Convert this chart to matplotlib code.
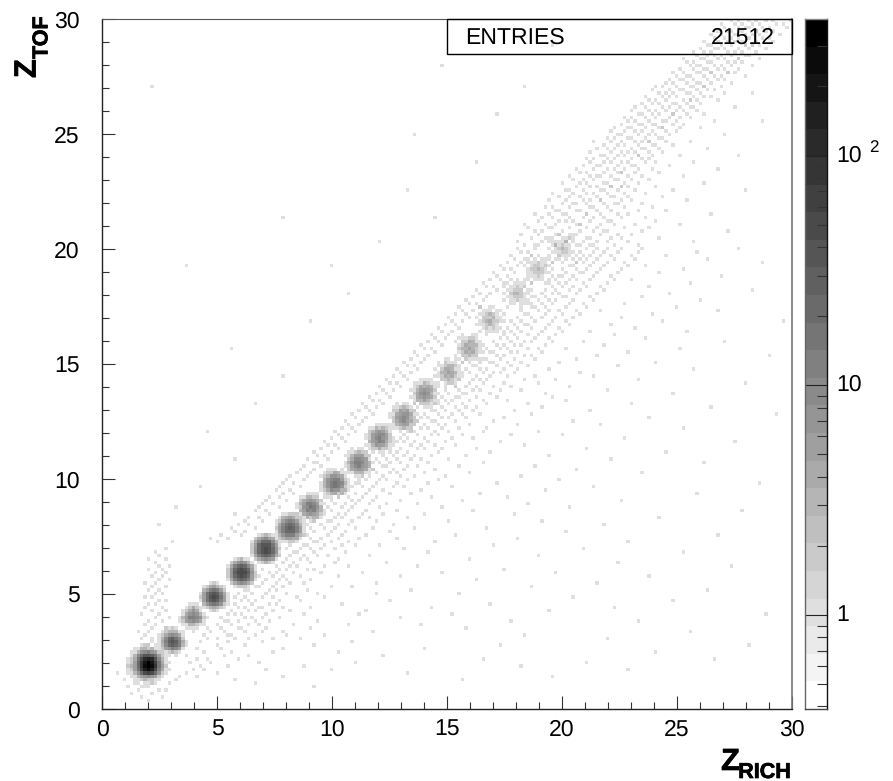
import numpy as np
import matplotlib
matplotlib.use('Agg')
import matplotlib.pyplot as plt
import matplotlib.patheffects as pe
from matplotlib.colors import ListedColormap, BoundaryNorm
from matplotlib.patches import Rectangle
from matplotlib.ticker import FixedLocator, NullFormatter, NullLocator

plt.rcParams['font.family'] = ['Liberation Sans', 'DejaVu Sans']
plt.rcParams['text.hinting'] = 'no_hinting'
plt.rcParams['text.hinting_factor'] = 1

# histogram binning and colour scale
n_bins = 200
z_max = 30
entries = 21512
z_min_colour = 0.39
z_max_colour = 393
n_levels = 25

# charge peaks: (column, row) of each stamp centre
peak_col = [20, 26, 32, 40, 47, 54, 60, 67, 74, 80, 87, 93, 100, 106, 112, 120, 126, 133]
peak_row = [19, 26, 32, 39, 46, 52, 58, 65, 71, 78, 84, 91, 97, 104, 112, 120, 127, 133]

# helium peak, read cell by cell, bottom row first
helium_col = 13
helium_row = 12
helium = [
    [0, 0, 0, 0, 1, 0, 1, 0, 0, 0, 0, 0, 0],
    [0, 0, 0, 1, 0, 1, 1, 2, 1, 0, 0, 0, 0],
    [0, 0, 1, 1, 2, 3, 2, 2, 1, 1, 0, 0, 0],
    [0, 1, 1, 3, 5, 8, 10, 7, 5, 2, 1, 0, 0],
    [1, 1, 3, 8, 22, 45, 70, 50, 22, 7, 2, 1, 0],
    [1, 2, 5, 15, 60, 150, 230, 160, 55, 14, 4, 1, 1],
    [2, 3, 6, 22, 90, 260, 393, 280, 85, 18, 5, 2, 0],
    [1, 2, 6, 24, 85, 220, 300, 210, 70, 16, 4, 1, 1],
    [1, 2, 4, 18, 50, 110, 140, 100, 40, 10, 3, 1, 0],
    [0, 1, 3, 9, 20, 34, 40, 30, 16, 6, 2, 1, 0],
    [0, 1, 1, 3, 7, 9, 11, 8, 5, 2, 1, 0, 0],
    [0, 0, 1, 1, 2, 3, 2, 3, 1, 1, 0, 0, 0],
    [0, 0, 0, 0, 1, 1, 2, 0, 1, 0, 0, 0, 0],
]

# 9x9 cells around each remaining peak, bottom row first
peak_3 = [[0, 0, 0, 1, 0, 1, 0, 0, 0], [0, 1, 1, 2, 3, 2, 1, 0, 0], [0, 2, 5, 8, 11, 9, 5, 1, 0], [1, 3, 10, 22, 30, 24, 11, 3, 1], [1, 4, 14, 28, 36, 27, 12, 4, 1], [1, 3, 10, 20, 26, 18, 9, 2, 0], [0, 2, 4, 8, 10, 7, 4, 1, 0], [0, 1, 2, 3, 3, 3, 1, 1, 0], [0, 0, 1, 1, 2, 1, 0, 0, 0]]
peak_4 = [[0, 0, 0, 0, 1, 0, 0, 0, 0], [0, 0, 1, 1, 1, 1, 0, 0, 0], [0, 1, 1, 3, 3, 2, 1, 1, 0], [1, 2, 5, 8, 9, 7, 4, 1, 0], [1, 3, 6, 11, 13, 10, 7, 2, 1], [0, 1, 4, 7, 10, 8, 3, 1, 0], [0, 1, 2, 4, 7, 4, 1, 0, 0], [0, 0, 1, 2, 4, 2, 1, 0, 0], [0, 0, 0, 1, 1, 1, 0, 0, 0]]
peak_5 = [[0, 0, 0, 1, 2, 1, 0, 0, 0], [0, 1, 2, 3, 4, 3, 2, 1, 0], [0, 3, 7, 13, 17, 13, 7, 2, 0], [1, 5, 15, 28, 36, 30, 14, 5, 1], [2, 6, 18, 36, 44, 36, 18, 5, 1], [1, 5, 15, 28, 34, 27, 13, 4, 1], [0, 3, 6, 13, 16, 12, 6, 2, 0], [0, 1, 2, 4, 5, 3, 2, 1, 0], [0, 0, 0, 1, 2, 1, 0, 0, 0]]
peak_6 = [[0, 0, 1, 2, 2, 2, 1, 0, 0], [0, 2, 4, 7, 9, 7, 4, 2, 0], [1, 4, 12, 22, 28, 24, 12, 4, 1], [2, 7, 22, 38, 46, 40, 21, 6, 2], [2, 8, 26, 46, 54, 44, 25, 8, 2], [2, 7, 21, 36, 44, 35, 20, 6, 1], [1, 4, 11, 22, 26, 20, 10, 4, 1], [0, 2, 4, 7, 9, 7, 3, 1, 0], [0, 0, 1, 2, 3, 1, 1, 0, 0]]
peak_7 = [[0, 0, 1, 2, 2, 2, 1, 0, 0], [0, 2, 4, 8, 10, 8, 4, 1, 0], [1, 4, 12, 22, 26, 22, 11, 4, 1], [2, 7, 22, 36, 44, 36, 20, 7, 1], [2, 8, 24, 42, 50, 42, 24, 8, 2], [2, 6, 20, 34, 40, 33, 18, 6, 1], [1, 4, 10, 20, 24, 19, 10, 3, 1], [0, 2, 4, 7, 9, 6, 4, 1, 0], [0, 0, 1, 2, 3, 2, 1, 0, 0]]
peak_8 = [[0, 0, 1, 1, 2, 1, 1, 0, 0], [0, 2, 3, 5, 6, 4, 3, 1, 0], [1, 3, 7, 12, 14, 12, 6, 3, 1], [1, 5, 12, 20, 23, 19, 11, 4, 1], [2, 5, 14, 23, 27, 22, 12, 5, 1], [1, 4, 10, 18, 21, 17, 10, 3, 1], [1, 2, 6, 10, 12, 10, 5, 2, 0], [0, 1, 3, 4, 5, 4, 2, 1, 0], [0, 0, 1, 1, 2, 2, 1, 0, 0]]
peak_9 = [[0, 0, 1, 0, 1, 1, 0, 0, 0], [0, 1, 1, 3, 2, 3, 2, 1, 0], [1, 1, 4, 6, 8, 5, 4, 2, 0], [0, 3, 6, 11, 9, 12, 5, 2, 1], [1, 2, 8, 10, 15, 11, 7, 3, 0], [1, 3, 5, 12, 11, 9, 6, 1, 1], [0, 2, 4, 5, 8, 6, 3, 2, 0], [0, 1, 1, 3, 3, 2, 2, 0, 1], [0, 0, 0, 1, 1, 1, 1, 0, 0]]
peak_10 = [[0, 0, 1, 1, 0, 1, 0, 0, 0], [0, 1, 2, 3, 4, 2, 2, 1, 0], [1, 2, 4, 9, 7, 8, 3, 2, 0], [1, 3, 8, 11, 15, 12, 7, 2, 1], [1, 3, 7, 14, 17, 11, 9, 3, 1], [0, 3, 8, 10, 12, 13, 5, 2, 1], [1, 2, 3, 7, 8, 6, 4, 1, 0], [0, 1, 2, 2, 4, 3, 1, 1, 0], [0, 0, 1, 1, 1, 0, 1, 0, 0]]
peak_11 = [[0, 0, 0, 1, 1, 1, 0, 0, 0], [0, 1, 1, 3, 2, 3, 1, 1, 0], [0, 2, 4, 5, 8, 5, 3, 1, 1], [1, 2, 5, 9, 12, 8, 6, 2, 0], [1, 3, 7, 11, 13, 10, 5, 3, 1], [0, 2, 4, 9, 9, 8, 5, 1, 0], [1, 1, 3, 6, 5, 6, 2, 2, 0], [0, 1, 1, 2, 3, 2, 2, 0, 0], [0, 0, 1, 0, 1, 1, 0, 0, 0]]
peak_12 = [[0, 0, 1, 0, 1, 1, 0, 0, 0], [0, 1, 2, 2, 4, 2, 1, 1, 0], [1, 1, 3, 7, 6, 6, 3, 1, 0], [0, 3, 6, 8, 11, 9, 4, 2, 1], [1, 2, 6, 10, 12, 8, 6, 2, 1], [1, 2, 5, 8, 10, 9, 5, 2, 0], [0, 2, 3, 5, 7, 5, 3, 1, 0], [0, 1, 1, 3, 2, 3, 2, 1, 0], [0, 0, 0, 1, 1, 1, 1, 0, 0]]
peak_13 = [[0, 0, 0, 1, 0, 1, 1, 0, 0], [0, 1, 1, 2, 3, 1, 2, 0, 0], [1, 1, 3, 4, 5, 5, 2, 1, 0], [0, 2, 4, 7, 9, 6, 4, 2, 1], [1, 2, 5, 8, 10, 8, 3, 2, 0], [1, 1, 4, 6, 8, 7, 4, 1, 1], [0, 2, 2, 5, 4, 5, 2, 2, 0], [0, 1, 1, 2, 3, 2, 1, 0, 0], [0, 0, 1, 0, 1, 1, 0, 1, 0]]
peak_14 = [[0, 0, 1, 0, 1, 0, 1, 0, 0], [0, 1, 0, 2, 2, 2, 1, 1, 0], [0, 1, 3, 3, 5, 3, 2, 1, 1], [1, 1, 4, 6, 8, 5, 4, 2, 0], [0, 2, 4, 7, 9, 7, 3, 1, 1], [1, 1, 3, 5, 7, 6, 4, 2, 0], [0, 1, 2, 4, 3, 4, 3, 1, 1], [0, 1, 1, 1, 3, 2, 1, 1, 0], [0, 0, 0, 1, 1, 1, 1, 0, 0]]
peak_15 = [[0, 0, 0, 1, 0, 0, 1, 0, 0], [0, 1, 0, 1, 2, 1, 1, 0, 0], [0, 0, 2, 2, 3, 2, 1, 1, 0], [1, 1, 2, 4, 3, 4, 2, 1, 0], [0, 1, 3, 3, 5, 4, 3, 1, 1], [1, 0, 2, 4, 4, 3, 1, 1, 0], [0, 1, 1, 2, 3, 3, 2, 1, 0], [0, 1, 0, 2, 1, 1, 1, 0, 1], [0, 0, 0, 1, 1, 0, 1, 0, 0]]
peak_16 = [[0, 0, 1, 0, 1, 0, 0, 0, 0], [0, 1, 0, 2, 1, 1, 1, 1, 0], [1, 0, 2, 2, 3, 2, 1, 0, 0], [0, 1, 2, 4, 3, 4, 2, 1, 1], [0, 2, 3, 3, 5, 3, 2, 1, 0], [0, 1, 2, 4, 3, 3, 3, 1, 1], [1, 0, 2, 2, 4, 3, 1, 1, 0], [0, 1, 1, 1, 2, 2, 1, 0, 0], [0, 0, 1, 0, 0, 1, 1, 0, 0]]
peak_17 = [[0, 0, 0, 1, 0, 0, 0, 0, 0], [0, 1, 0, 1, 1, 1, 0, 0, 1], [0, 0, 1, 2, 1, 2, 1, 1, 0], [1, 1, 1, 2, 3, 2, 1, 0, 0], [0, 1, 2, 3, 4, 2, 2, 1, 1], [1, 0, 2, 2, 2, 3, 1, 1, 0], [0, 1, 1, 2, 3, 2, 1, 0, 1], [0, 0, 1, 1, 1, 0, 1, 1, 0], [0, 1, 0, 0, 1, 1, 0, 0, 0]]
peak_18 = [[0, 1, 0, 0, 0, 1, 0, 0, 0], [0, 0, 1, 1, 0, 1, 1, 0, 1], [1, 0, 1, 1, 2, 1, 1, 1, 0], [0, 1, 1, 2, 2, 2, 1, 0, 1], [1, 0, 2, 3, 3, 2, 1, 1, 0], [0, 1, 1, 2, 2, 2, 0, 1, 1], [1, 0, 1, 1, 2, 1, 2, 0, 0], [0, 1, 0, 1, 1, 1, 1, 0, 1], [0, 0, 1, 0, 1, 0, 0, 1, 0]]
peak_19 = [[0, 0, 1, 0, 0, 0, 1, 0, 0], [1, 0, 0, 1, 1, 1, 0, 1, 0], [0, 1, 1, 1, 2, 1, 0, 0, 1], [0, 1, 1, 2, 2, 2, 1, 1, 0], [0, 1, 2, 2, 3, 2, 1, 0, 1], [1, 0, 1, 2, 2, 1, 2, 1, 0], [0, 1, 1, 1, 2, 1, 1, 0, 1], [0, 1, 0, 1, 0, 1, 1, 1, 0], [0, 0, 1, 0, 1, 0, 0, 0, 0]]
peak_20 = [[0, 1, 0, 0, 1, 0, 0, 0, 1], [0, 0, 1, 1, 0, 1, 0, 1, 0], [1, 0, 0, 2, 1, 1, 1, 0, 1], [0, 1, 1, 1, 2, 2, 1, 1, 0], [1, 0, 1, 2, 3, 2, 1, 0, 0], [0, 1, 2, 1, 2, 1, 1, 0, 1], [1, 0, 1, 1, 1, 2, 0, 1, 0], [0, 1, 0, 0, 1, 1, 0, 1, 0], [0, 0, 1, 1, 0, 0, 1, 0, 0]]
peak_stamps = [peak_3, peak_4, peak_5, peak_6, peak_7, peak_8, peak_9, peak_10, peak_11,
               peak_12, peak_13, peak_14, peak_15, peak_16, peak_17, peak_18, peak_19, peak_20]

# single counts, row number -> occupied columns
specks_low = {
    2: [13], 3: [11, 17], 4: [8, 14], 5: [10, 16, 18], 6: [7, 12, 61], 7: [9, 19, 44], 8: [6, 21, 38, 104],
    9: [22, 27, 52, 130], 10: [4, 24, 33, 88], 11: [26, 29, 47, 66, 152], 12: [28, 36, 58, 121], 13: [25, 31, 45, 73, 140],
    14: [27, 30, 39, 110, 177], 15: [24, 35, 42, 81], 16: [29, 37, 49, 68, 160], 17: [11, 27, 34, 52, 93], 18: [12, 33, 41, 61, 115, 187],
    19: [14, 28, 36, 46, 72], 20: [11, 14, 30, 33, 38, 42, 49, 57, 146], 21: [12, 16, 29, 36, 37, 44, 53, 64, 122], 22: [10, 13, 31, 35, 41, 46, 52, 78, 170],
    23: [14, 18, 30, 34, 39, 40, 47, 60, 105], 24: [12, 15, 33, 37, 42, 45, 55, 71, 92], 25: [13, 17, 35, 36, 39, 44, 48, 62, 118, 155], 26: [15, 19, 34, 41, 43, 46, 51, 86],
    27: [11, 16, 36, 38, 40, 47, 58, 74, 101, 192], 28: [14, 18, 37, 42, 44, 49, 54, 76, 129], 29: [12, 17, 39, 41, 45, 46, 52, 60, 95, 148], 30: [13, 15, 36, 38, 43, 48, 50, 69, 112],
    31: [16, 18, 40, 42, 44, 51, 57, 83, 165], 32: [12, 14, 38, 41, 46, 49, 56, 64, 136], 33: [15, 17, 39, 43, 47, 53, 62, 79, 103], 34: [13, 16, 41, 42, 48, 50, 59, 89, 175],
    35: [14, 18, 44, 45, 49, 52, 66, 72, 124], 36: [12, 15, 46, 50, 54, 58, 79, 143], 37: [16, 19, 43, 47, 51, 53, 60, 108], 38: [14, 17, 45, 49, 52, 57, 68, 86, 158],
    39: [15, 18, 48, 50, 55, 63, 75, 98, 131], 40: [13, 17, 46, 51, 53, 59, 61, 116], 41: [16, 19, 50, 54, 56, 64, 71, 91, 182], 42: [15, 47, 52, 55, 60, 67, 82, 149],
    43: [13, 18, 49, 53, 57, 59, 68, 106], 44: [16, 51, 54, 58, 62, 65, 77, 126], 45: [15, 50, 55, 56, 61, 70, 94, 168], 46: [18, 53, 57, 60, 63, 67, 87, 139],
    47: [54, 58, 59, 64, 69, 73, 80, 113], 48: [20, 33, 55, 61, 62, 66, 71, 96, 152], 49: [31, 36, 56, 60, 63, 68, 74, 85, 120], 50: [34, 40, 58, 59, 65, 69, 76, 102, 178],
    51: [38, 41, 57, 61, 66, 70, 83, 134], 52: [37, 44, 60, 64, 67, 73, 78, 90, 111], 53: [39, 42, 59, 63, 68, 71, 84, 145], 54: [41, 46, 61, 65, 66, 72, 79, 100, 127],
    55: [42, 45, 62, 67, 69, 74, 77, 88, 161], 56: [38, 48, 64, 68, 70, 75, 81, 93, 119], 57: [44, 47, 63, 66, 71, 76, 85, 107, 185], 58: [45, 51, 65, 69, 72, 80, 98, 135],
    59: [46, 49, 67, 70, 73, 77, 82, 91, 123], 60: [47, 53, 66, 72, 74, 78, 86, 104, 150], 61: [48, 51, 68, 71, 75, 79, 95, 117], 62: [52, 55, 69, 73, 76, 83, 89, 109, 172],
    63: [50, 54, 70, 71, 77, 81, 92, 128], 64: [51, 57, 72, 75, 78, 84, 87, 101, 142], 65: [52, 55, 73, 74, 79, 85, 94, 114, 190], 66: [53, 58, 74, 76, 80, 82, 88, 97, 132],
}
specks_mid = {
    67: [54, 59, 75, 77, 81, 86, 90, 99, 121], 68: [56, 60, 74, 79, 83, 85, 93, 106, 156], 69: [57, 61, 76, 78, 84, 87, 96, 137], 70: [58, 63, 77, 81, 82, 88, 91, 103, 125],
    71: [61, 62, 80, 83, 86, 94, 110, 174], 72: [59, 65, 79, 82, 85, 89, 92, 100, 147], 73: [62, 64, 81, 84, 87, 90, 95, 105, 129], 74: [61, 66, 83, 85, 88, 97, 112, 163],
    75: [63, 68, 82, 86, 91, 93, 98, 108, 140], 76: [65, 67, 84, 89, 92, 96, 102, 122], 77: [64, 70, 85, 87, 90, 94, 99, 115, 183], 78: [66, 69, 86, 88, 93, 101, 107, 151],
    79: [68, 71, 87, 91, 95, 97, 104, 118, 133], 80: [67, 73, 89, 90, 96, 100, 110, 126], 81: [69, 72, 88, 92, 94, 98, 103, 111, 168], 82: [71, 74, 90, 93, 97, 99, 106, 120, 144],
    83: [70, 75, 91, 95, 96, 102, 113, 136], 84: [73, 76, 92, 94, 98, 100, 105, 116, 158], 85: [72, 78, 93, 97, 101, 104, 109, 124, 195], 86: [74, 77, 95, 96, 99, 103, 107, 119, 141],
    87: [76, 79, 94, 98, 102, 105, 108, 127, 176], 88: [75, 81, 96, 97, 100, 104, 111, 123, 153], 89: [78, 80, 99, 101, 106, 110, 117, 134], 90: [77, 83, 98, 102, 103, 108, 114, 130],
    91: [79, 82, 100, 104, 105, 112, 128, 165], 92: [81, 84, 99, 103, 107, 109, 115, 121, 146], 93: [80, 86, 102, 105, 108, 113, 118, 135], 94: [83, 85, 101, 106, 110, 116, 126, 186],
    95: [82, 88, 103, 107, 109, 111, 122, 131, 155], 96: [84, 87, 104, 108, 112, 117, 125, 142], 97: [86, 89, 106, 110, 113, 115, 119, 138], 98: [85, 91, 105, 109, 111, 116, 120, 129, 171],
    99: [88, 90, 107, 108, 114, 118, 123, 149], 100: [87, 92, 109, 112, 113, 117, 121, 132, 160], 101: [89, 93, 110, 111, 115, 119, 125, 137], 102: [91, 94, 108, 114, 116, 122, 124, 143, 193],
    103: [90, 96, 112, 113, 118, 120, 127, 152], 104: [93, 95, 111, 115, 117, 123, 126, 134, 167], 105: [92, 98, 114, 116, 119, 121, 128, 145], 106: [94, 97, 113, 118, 122, 124, 130, 139, 180],
    107: [96, 99, 115, 117, 120, 125, 129, 157], 108: [95, 100, 116, 119, 123, 126, 131, 148], 109: [98, 101, 114, 118, 121, 127, 133, 141, 169], 110: [97, 103, 117, 120, 124, 128, 132, 154],
    111: [99, 102, 119, 122, 123, 129, 135, 147], 112: [101, 104, 118, 121, 125, 130, 134, 162, 197], 113: [100, 106, 120, 124, 127, 131, 136, 150], 114: [102, 105, 122, 123, 128, 133, 138, 159],
    115: [104, 107, 121, 126, 129, 132, 137, 144, 178], 116: [103, 109, 124, 125, 128, 134, 140, 166], 117: [106, 108, 123, 127, 130, 135, 139, 151], 118: [105, 110, 126, 129, 131, 136, 142, 173],
    119: [107, 111, 125, 128, 133, 134, 141, 156], 120: [109, 112, 127, 130, 132, 137, 143, 164], 121: [108, 114, 128, 131, 135, 138, 145, 188], 122: [111, 113, 130, 133, 136, 140, 144, 158],
    123: [110, 116, 129, 132, 134, 139, 146, 170], 124: [112, 115, 131, 135, 137, 141, 148, 153], 125: [114, 117, 132, 133, 136, 142, 147, 179], 126: [113, 119, 134, 138, 139, 143, 149, 161],
    127: [116, 118, 133, 137, 140, 144, 150, 168], 128: [115, 120, 135, 136, 141, 145, 152, 157], 129: [117, 121, 137, 139, 142, 146, 151, 191], 130: [119, 122, 138, 140, 143, 148, 154, 175],
    131: [118, 124, 139, 141, 144, 147, 153, 163], 132: [121, 123, 138, 142, 145, 149, 155, 172], 133: [120, 125, 140, 143, 146, 150, 156, 184],
}
specks_high = {
    134: [122, 125, 126, 131, 138, 141, 142, 148, 155], 135: [120, 127, 130, 134, 139, 143, 146, 152, 171], 136: [124, 128, 129, 135, 140, 141, 147, 150, 161], 137: [121, 126, 132, 136, 137, 144, 149, 153],
    138: [125, 127, 133, 138, 142, 145, 146, 156, 181], 139: [123, 129, 130, 135, 140, 143, 151, 158], 140: [122, 128, 131, 137, 138, 144, 148, 154, 167], 141: [126, 132, 134, 136, 141, 146, 147, 160],
    142: [127, 130, 135, 139, 142, 145, 150, 157], 143: [125, 129, 133, 134, 140, 144, 149, 152, 176], 144: [131, 132, 137, 138, 143, 147, 155, 163], 145: [128, 130, 135, 141, 142, 146, 151, 159],
    146: [133, 136, 137, 140, 145, 148, 149, 156], 147: [129, 134, 139, 141, 144, 150, 153, 169], 148: [132, 135, 138, 143, 147, 148, 152, 162], 149: [130, 136, 140, 142, 146, 151, 157],
    150: [134, 135, 139, 144, 145, 149, 154, 165, 186], 151: [137, 141, 143, 147, 150, 152, 160], 152: [133, 138, 140, 145, 146, 151, 155, 174], 153: [136, 139, 142, 148, 149, 153, 158],
    154: [135, 141, 143, 144, 147, 152, 156, 168], 155: [138, 140, 145, 149, 150, 154, 161], 156: [137, 142, 146, 148, 151, 155, 159, 178], 157: [139, 143, 144, 149, 153, 154, 164],
    158: [141, 145, 147, 150, 152, 157, 160, 171], 159: [140, 142, 146, 148, 153, 156, 158], 160: [144, 145, 149, 151, 155, 159, 167, 184], 161: [141, 147, 150, 152, 154, 158, 162],
    162: [143, 146, 148, 153, 156, 157, 161, 175], 163: [145, 149, 151, 155, 159, 160, 165], 164: [142, 147, 150, 154, 156, 158, 163, 170], 165: [146, 148, 152, 153, 157, 161, 162],
    166: [149, 150, 155, 158, 160, 164, 180], 167: [147, 151, 154, 156, 159, 163, 166], 168: [148, 152, 153, 157, 161, 162, 167, 173], 169: [150, 155, 156, 159, 160, 165, 168],
    170: [152, 154, 158, 162, 163, 166, 177, 191], 171: [151, 153, 157, 160, 164, 167, 170], 172: [155, 156, 159, 161, 165, 169, 174], 173: [153, 158, 160, 163, 166, 168, 172],
    174: [154, 157, 162, 164, 167, 170, 171, 183], 175: [156, 159, 161, 165, 166, 169, 173], 176: [158, 160, 163, 168, 170, 172, 178], 177: [157, 162, 164, 166, 171, 174, 176],
    178: [161, 163, 165, 169, 170, 173, 180, 188], 179: [159, 164, 167, 168, 172, 175, 177], 180: [160, 162, 166, 170, 171, 174, 179], 181: [163, 165, 169, 172, 173, 176, 182],
    182: [164, 167, 168, 171, 175, 178, 180], 183: [166, 169, 170, 174, 177, 179, 186], 184: [165, 168, 172, 173, 176, 181, 183], 185: [167, 171, 174, 175, 178, 180, 184],
    186: [170, 172, 173, 177, 179, 182, 188], 187: [169, 171, 175, 176, 181, 183, 185], 188: [168, 173, 174, 178, 180, 184, 190], 189: [172, 175, 177, 179, 182, 186, 187],
    190: [171, 174, 176, 181, 183, 185, 189], 191: [173, 177, 178, 180, 184, 187, 192], 192: [175, 176, 179, 182, 186, 188, 190], 193: [174, 178, 181, 183, 185, 189, 194],
    194: [177, 180, 182, 184, 187, 191, 193], 195: [176, 179, 183, 186, 188, 190, 196], 196: [178, 181, 182, 185, 189, 192, 194], 197: [180, 184, 186, 187, 191, 193, 198],
    198: [179, 183, 185, 188, 190, 195, 197], 199: [182, 184, 187, 189, 192, 194, 199],
}
# isolated specks far above the diagonal
specks_far = {
    15: [13], 53: [16], 58: [21], 64: [28], 72: [38], 80: [30], 88: [44], 96: [52], 104: [37], 112: [60], 120: [71],
    128: [24, 66], 135: [80], 142: [52, 96], 150: [88], 158: [108], 166: [90], 172: [114], 180: [14, 122], 186: [98], 192: [130],
}
# cells of the upper band that hold two counts
band_doubles = {
    136: [135], 140: [138], 143: [140], 147: [144], 151: [147, 150], 155: [150], 160: [155], 164: [158], 168: [162],
    172: [165], 176: [170], 180: [174], 184: [176, 181], 188: [184], 192: [186, 188], 196: [189],
}

tick_values = [5, 10, 15, 20, 25, 30]


counts = np.zeros((n_bins, n_bins))


def add_stamp(stamp, col, row):
    stamp = np.array(stamp)
    half = stamp.shape[0] // 2
    counts[row - half:row + half + 1, col - half:col + half + 1] += stamp


add_stamp(helium, helium_col, helium_row)
for stamp, col, row in zip(peak_stamps, peak_col, peak_row):
    add_stamp(stamp, col, row)
for table in (specks_low, specks_mid, specks_high, specks_far, band_doubles):
    for row, cols in table.items():
        for col in cols:
            counts[row, col] += 1

W, H = 893, 781
fig = plt.figure(figsize=(W / 100, H / 100), dpi=100)
ax = fig.add_axes([102 / W, (H - 709) / H, 690 / W, 690 / H])
cax = fig.add_axes([805 / W, (H - 709) / H, 22 / W, 690 / H])

# PAW style grey scale, white at the bottom to black at the top
greys = [str(1 - i / (n_levels - 1)) for i in range(n_levels)]
cmap = ListedColormap(greys)
level_edges = np.logspace(np.log10(z_min_colour), np.log10(z_max_colour), n_levels + 1)
norm = BoundaryNorm(level_edges, n_levels)

edges = np.linspace(0, z_max, n_bins + 1)
ax.pcolormesh(edges, edges, np.ma.masked_equal(counts, 0), cmap=cmap, norm=norm, linewidth=0, rasterized=True)
ax.set_xlim(0, z_max)
ax.set_ylim(0, z_max)
ax.set_xticks([0] + tick_values)
ax.set_yticks([0] + tick_values)
ax.set_xticks(np.arange(0, 31), minor=True)
ax.set_yticks(np.arange(0, 31), minor=True)
ax.tick_params(which='major', direction='in', length=9.4, width=0.8, labelsize=16.8, color='#333333')
ax.tick_params(which='minor', direction='in', length=4.8, width=0.8, color='#333333')
ax.tick_params(axis='x', which='major', pad=7)
ax.tick_params(axis='y', which='major', pad=16)
for side in ('left', 'bottom'):
    ax.spines[side].set_linewidth(1.0)
    ax.spines[side].set_color('#222222')
ax.spines['top'].set_linewidth(0.8)
ax.spines['top'].set_color('#555555')
ax.spines['right'].set_linewidth(1.2)
ax.spines['right'].set_color('#777777')

# stats box spans the right half of the top edge
ax.add_patch(Rectangle((15, 30 - 35 / 23), 15, 35 / 23, fill=False, edgecolor='black', linewidth=1.0, zorder=5, clip_on=False))
fig.text(465 / W, 1 - 44 / H, 'ENTRIES', fontsize=16.8, ha='left', va='baseline')
fig.text(775 / W, 1 - 44 / H, str(entries), fontsize=16.8, ha='right', va='baseline')

# axis titles are set by hand, the subscript hangs below the letter
heavy = [pe.withStroke(linewidth=0.5, foreground='black')]
fig.text(740 / W, 1 - 770 / H, 'Z', fontsize=22, fontweight='bold', family='Liberation Sans', ha='right', va='baseline', path_effects=heavy)
fig.text(792 / W, 1 - 778 / H, 'RICH', fontsize=15.5, fontweight='bold', family='Liberation Sans', ha='right', va='baseline', path_effects=heavy)
fig.text(42 / W, 1 - 78 / H, 'Z', fontsize=22, fontweight='bold', family='Liberation Sans', rotation=90, ha='right', va='bottom', path_effects=heavy)
fig.text(52 / W, 1 - 59 / H, 'TOF', fontsize=15.5, fontweight='bold', family='Liberation Sans', rotation=90, ha='right', va='bottom', path_effects=heavy)

# colour bar
cax.pcolormesh([0, 1], level_edges, np.arange(n_levels).reshape(-1, 1) + 0.5, cmap=cmap,
               norm=BoundaryNorm(np.arange(n_levels + 1), n_levels), linewidth=0, rasterized=True)
cax.set_yscale('log')
cax.set_ylim(z_min_colour, z_max_colour)
cax.set_xlim(0, 1)
cax.xaxis.set_major_locator(NullLocator())
cax.yaxis.tick_right()
cax.yaxis.set_major_locator(FixedLocator([1, 10, 100]))
minor = [m * d for d in (0.1, 1, 10, 100) for m in range(2, 10)]
cax.yaxis.set_minor_locator(FixedLocator([v for v in minor if z_min_colour < v < z_max_colour]))
cax.yaxis.set_major_formatter(NullFormatter())
cax.yaxis.set_minor_formatter(NullFormatter())
cax.tick_params(axis='y', which='major', direction='in', length=15.8, width=0.8, color='#222222')
cax.tick_params(axis='y', which='minor', direction='in', length=7.5, width=0.8, color='#333333')
for side, colour in (('left', '#666666'), ('right', '#111111'), ('top', '#888888'), ('bottom', '#444444')):
    cax.spines[side].set_color(colour)
    cax.spines[side].set_linewidth(1.0)

trans = cax.get_yaxis_transform()
cax.text(1.42, 1, '1', transform=trans, fontsize=16.8, ha='left', va='center')
cax.text(1.42, 10, '10', transform=trans, fontsize=16.8, ha='left', va='center')
cax.text(1.42, 100, '10', transform=trans, fontsize=16.8, ha='left', va='center')
fig.text(869 / W, 1 - 152 / H, '2', fontsize=12.5, ha='left', va='baseline')

fig.savefig('out.png', dpi=100)
